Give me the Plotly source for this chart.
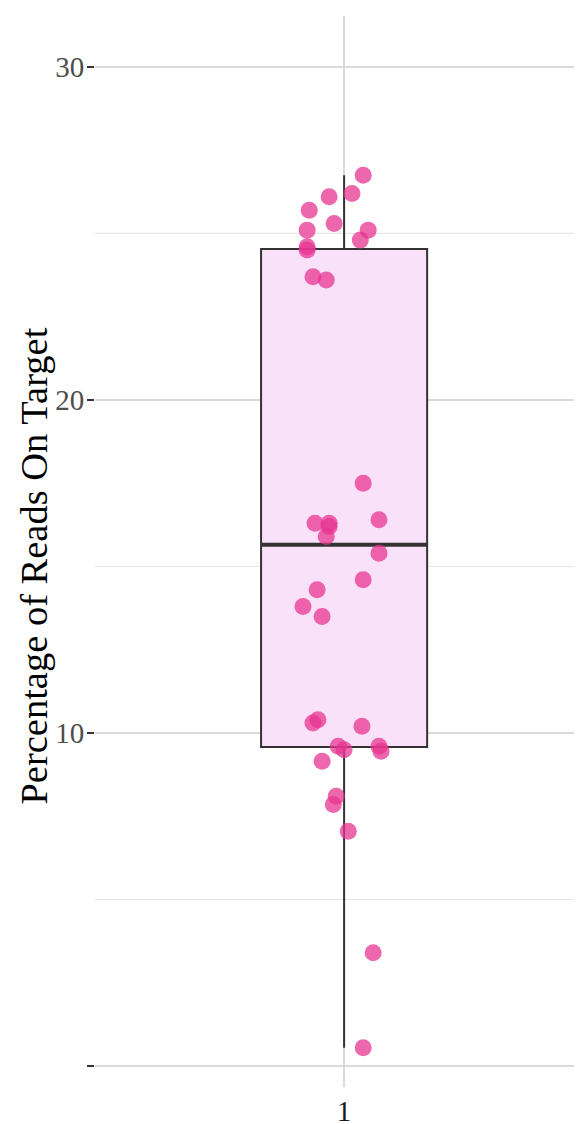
import plotly.graph_objects as go

# ---- data ----
category = 1
values = [26.75, 26.2, 26.1, 25.7, 25.3, 25.1, 25.1, 24.8, 24.6, 24.5, 23.7, 23.6,
          17.5, 16.3, 16.3, 16.2, 15.9, 16.4, 15.4, 14.6, 14.3, 13.8, 13.5,
          10.4, 10.3, 10.2, 9.6, 9.5, 9.6, 9.45, 9.15, 8.1, 7.85, 7.05, 3.4, 0.55]
jitter = [0.046, 0.019, -0.036, -0.084, -0.024, 0.058, -0.089, 0.039, -0.089, -0.089, -0.075, -0.043,
          0.046, -0.070, -0.036, -0.036, -0.043, 0.084, 0.084, 0.046, -0.065, -0.099, -0.053,
          -0.063, -0.075, 0.043, -0.014, 0.0, 0.084, 0.089, -0.053, -0.019, -0.026, 0.010, 0.070, 0.046]
box_q1 = 9.58
box_median = 15.65
box_q3 = 24.53
box_low = 0.55
box_high = 26.75
y_ticks = [0, 10, 20, 30]
y_ticklabels = ["", "10", "20", "30"]
y_minor = [5, 15, 25]
x_ticklabels = ["1"]
y_title = "Percentage of Reads On Target"

box_width = 0.4
font_family = "Liberation Serif, Times New Roman, serif"

fig = go.Figure()

fig.add_trace(go.Box(
    x=[category], q1=[box_q1], median=[box_median], q3=[box_q3],
    lowerfence=[box_low], upperfence=[box_high],
    width=box_width, fillcolor="#F9E1FA",
    line=dict(color="#333333", width=2), whiskerwidth=0,
    boxpoints=False, hoverinfo="skip", showlegend=False,
))

# thicker median line
fig.add_trace(go.Scatter(
    x=[category - box_width / 2, category + box_width / 2], y=[box_median, box_median],
    mode="lines", line=dict(color="#333333", width=4), showlegend=False, hoverinfo="skip",
))

fig.add_trace(go.Scatter(
    x=[category + j for j in jitter], y=values, mode="markers",
    marker=dict(size=17, color="rgba(231,52,145,0.75)", line=dict(width=0)),
    showlegend=False,
))

grid_c = "#DADADA"
for m in y_minor:
    fig.add_hline(y=m, line=dict(color="#E6E6E6", width=1.2), layer="below")

# y-axis title as a rotated annotation (centred like ggplot, slightly below panel centre)
fig.add_annotation(
    text=y_title, textangle=-90, showarrow=False,
    xref="paper", yref="paper", x=-0.125, y=0.486, xanchor="center", yanchor="middle",
    font=dict(size=38.5, color="black", family=font_family),
)

fig.update_layout(
    width=574, height=1116,
    margin=dict(l=87, r=0, t=8, b=37, autoexpand=False),
    paper_bgcolor="white", plot_bgcolor="white",
    font=dict(family=font_family),
    xaxis=dict(
        range=[0.4, 1.573], tickvals=[category], ticktext=x_ticklabels,
        showgrid=True, gridcolor=grid_c, gridwidth=2,
        zeroline=False, showline=False, ticks="", automargin=False,
        tickfont=dict(size=29, color="#1a1a1a"), ticklabelstandoff=4,
    ),
    yaxis=dict(
        range=[-0.63, 31.53], tickvals=y_ticks, ticktext=y_ticklabels,
        showgrid=True, gridcolor=grid_c, gridwidth=2,
        zeroline=False, showline=False, automargin=False,
        ticks="outside", ticklen=7, tickwidth=2, tickcolor="#333333",
        tickfont=dict(size=29, color="#4D4D4D"), ticklabelstandoff=-3,
    ),
)

fig.write_html("out.html")
